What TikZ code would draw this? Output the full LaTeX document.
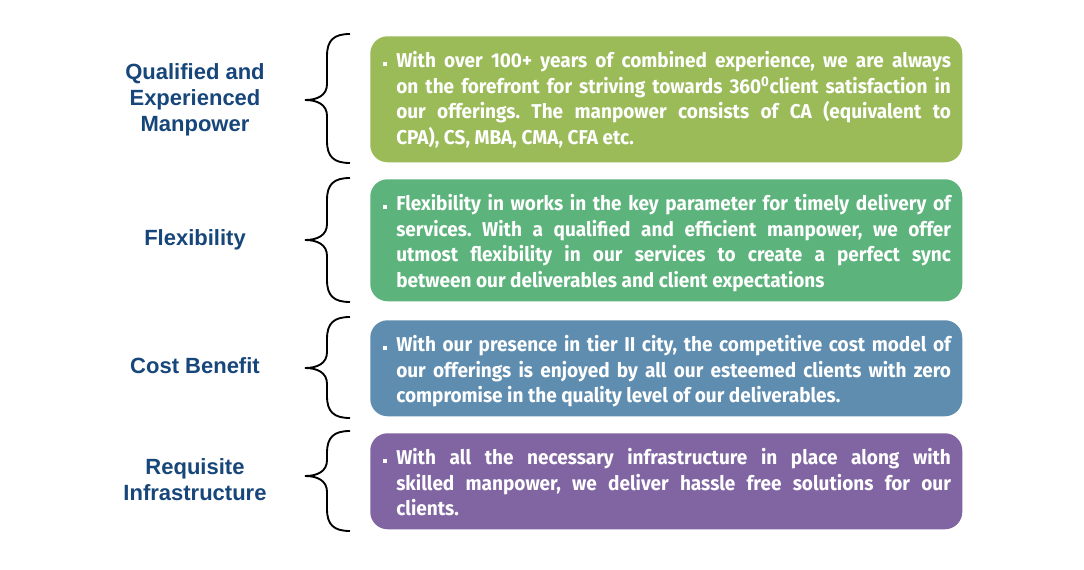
\documentclass[tikz,border=0pt]{standalone}
\usepackage{fontspec}
\setmainfont{Fira Sans}
\newfontfamily\boxfont{Fira Sans}[FakeStretch=0.95]
\newfontfamily\labelfont{Liberation Sans}
\usetikzlibrary{positioning,calc}
\definecolor{qegreen}{HTML}{9BBB59}
\definecolor{flexgreen}{HTML}{5DB37C}
\definecolor{costblue}{HTML}{5F8DB0}
\definecolor{infrapurple}{HTML}{8065A2}
\definecolor{headblue}{HTML}{17467A}

\tikzset{
  infobox/.style={rounded corners=13pt,minimum width=444pt,anchor=north west,inner sep=0pt},
  infotext/.style={text width=416pt,anchor=north west,inner sep=0pt,text=white,align=justify,
    font=\boxfont\bfseries\fontsize{15}{19.2}\selectfont\frenchspacing},
  bulletsq/.style={fill=white,minimum size=3.6pt,inner sep=0pt},
  headlabel/.style={text=headblue,align=center,font=\labelfont\bfseries\fontsize{16.5}{19.5}\selectfont},
  bracepen/.style={line width=1.4pt,black},
}

% curly brace: top, tip, bottom (px)
\newcommand{\curlybrace}[3]{%
  \draw[bracepen] (350,#1) .. controls (334,#1) and (327,#1+6) .. (327,#1+22)
    -- (327,#2-16) .. controls (327,#2-5) and (318,#2) .. (305,#2)
    .. controls (318,#2) and (327,#2+5) .. (327,#2+16)
    -- (327,#3-22) .. controls (327,#3-6) and (334,#3) .. (350,#3);}

\begin{document}
\begin{tikzpicture}[x=0.75pt,y=-0.75pt]
  \useasboundingbox[fill=white] (0,0) rectangle (1084,570);

  % boxes
  \node[infobox,fill=qegreen,minimum height=94.5pt] (box1) at (370,36) {};
  \node[infobox,fill=flexgreen,minimum height=91.5pt] (box2) at (370,179) {};
  \node[infobox,fill=costblue,minimum height=72pt] (box3) at (370,320) {};
  \node[infobox,fill=infrapurple,minimum height=72pt] (box4) at (370,433) {};

  % texts
  \node[infotext,below right=11.25pt and 19.5pt of box1.north west] (txt1)
    {With over 100+ years of combined experience, we are always\linebreak
     on the forefront for striving towards 360\textsuperscript{0}client satisfaction in\linebreak
     our offerings. The manpower consists of CA (equivalent to\linebreak
     CPA), CS, MBA, CMA, CFA etc.};
  \node[infotext,below right=11.25pt and 19.5pt of box2.north west] (txt2)
    {Flexibility in works in the key parameter for timely delivery of\linebreak
     services. With a qualified and efficient manpower, we offer\linebreak
     utmost flexibility in our services to create a perfect sync\linebreak
     between our deliverables and client expectations};
  \node[infotext,below right=11.25pt and 19.5pt of box3.north west] (txt3)
    {With our presence in tier II city, the competitive cost model of\linebreak
     our offerings is enjoyed by all our esteemed clients with zero\linebreak
     compromise in the quality level of our deliverables.};
  \node[infotext,below right=11.25pt and 19.5pt of box4.north west] (txt4)
    {With all the necessary infrastructure in place along with\linebreak
     skilled manpower, we deliver hassle free solutions for our\linebreak
     clients.};

  % bullets
  \node[bulletsq] (dot1) at ([xshift=11.25pt,yshift=-21pt]box1.north west) {};
  \node[bulletsq] (dot2) at ([xshift=11.25pt,yshift=-21pt]box2.north west) {};
  \node[bulletsq] (dot3) at ([xshift=11.25pt,yshift=-21pt]box3.north west) {};
  \node[bulletsq] (dot4) at ([xshift=11.25pt,yshift=-21pt]box4.north west) {};

  % braces
  \curlybrace{34}{100}{163}
  \curlybrace{178}{240}{302}
  \curlybrace{317}{368}{418}
  \curlybrace{431}{476}{531}

  % labels
  \node[headlabel] (lab1) at (195,100) {Qualified and\\Experienced\\Manpower};
  \node[headlabel] (lab2) at (195,240) {Flexibility};
  \node[headlabel] (lab3) at (195,366) {Cost Benefit};
  \node[headlabel] (lab4) at (195,480) {Requisite\\Infrastructure};
\end{tikzpicture}
\end{document}
